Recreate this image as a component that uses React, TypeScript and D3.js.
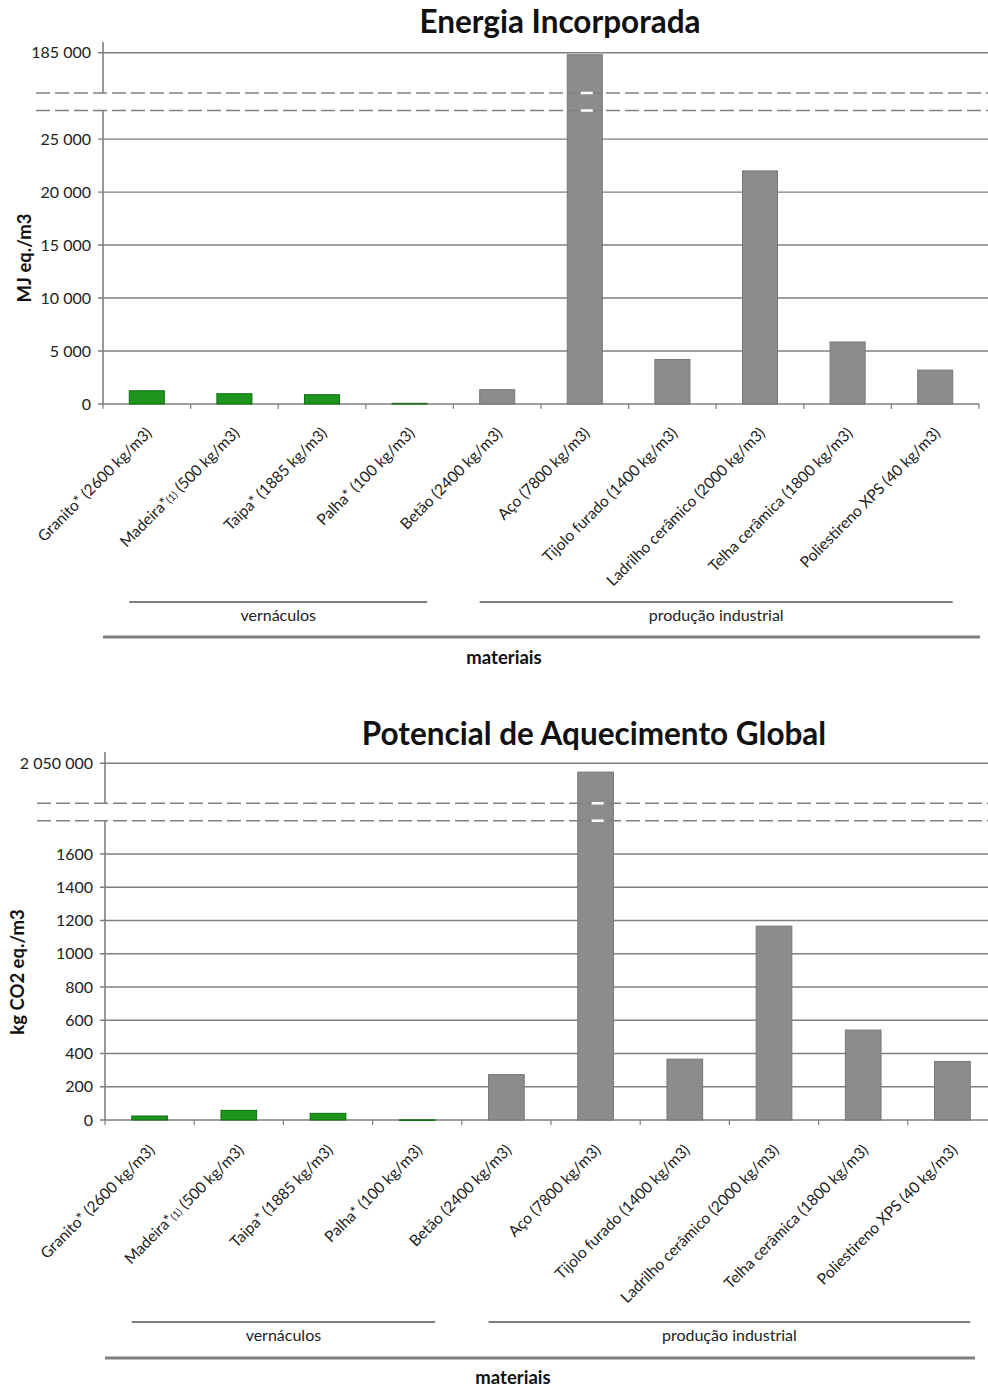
import React from "react";
import * as d3 from "d3";

// Material categories (density in parentheses)
const categories = [
  "Granito* (2600 kg/m3)",
  "Madeira*(1) (500 kg/m3)",
  "Taipa* (1885 kg/m3)",
  "Palha* (100 kg/m3)",
  "Betão (2400 kg/m3)",
  "Aço (7800 kg/m3)",
  "Tijolo furado (1400 kg/m3)",
  "Ladrilho cerâmico (2000 kg/m3)",
  "Telha cerâmica (1800 kg/m3)",
  "Poliestireno XPS (40 kg/m3)",
];

// Vernacular materials are the first four
const vernacular = [true, true, true, true, false, false, false, false, false, false];

// Embodied energy, MJ eq./m3
const energyValues = [1250, 970, 880, 60, 1350, 184500, 4200, 22000, 5850, 3200];
// Global warming potential, kg CO2 eq./m3
const gwpValues = [24, 58, 40, 1, 273, 2028000, 366, 1166, 541, 352];

const energyLowerTicks = [0, 5000, 10000, 15000, 20000, 25000];
const energyUpperTicks = [185000];
const gwpLowerTicks = [0, 200, 400, 600, 800, 1000, 1200, 1400, 1600];
const gwpUpperTicks = [2050000];

const groupLabels = ["vernáculos", "produção industrial"];
const groupRanges: [number, number][] = [
  [0, 3],
  [4, 9],
];

const FONT = "Lato, 'Open Sans', sans-serif";
const GRID = "#7f7f7f";
const BAR_GRAY = "#8c8c8c";
const BAR_GRAY_EDGE = "#777";
const BAR_GREEN = "#1c961c";
const BAR_GREEN_EDGE = "#0f6e0f";

const spaced = (v: number) => d3.format(",")(v).replace(/,/g, " ");
const plain = (v: number) => String(v);

type ChartProps = {
  title: string;
  titleX: number;
  titleY: number;
  yLabel: string;
  yLabelX: number;
  yLabelY: number;
  values: number[];
  x0: number;
  x1: number;
  y0: number; // baseline
  lowerTopY: number; // top of lower segment
  lowerMax: number;
  upperBottomY: number;
  upperTopY: number; // top of the axis line
  upperDomain: [number, number];
  upperRange: [number, number];
  lowerTicks: number[];
  upperTicks: number[];
  fmtLower: (v: number) => string;
  fmtUpper: (v: number) => string;
  dashX0: number;
  groupLineY: number;
  groupTextY: number;
  baseLineY: number;
  baseLineX1: number;
  axisTitleX: number;
  axisTitleY: number;
  labelOffset: number;
};

function BrokenBarChart(p: ChartProps) {
  const x = d3
    .scaleBand<string>()
    .domain(categories)
    .range([p.x0, p.x1])
    .paddingInner(0)
    .paddingOuter(0);
  const bw = x.bandwidth() * 0.4;
  const yLow = d3.scaleLinear().domain([0, p.lowerMax]).range([p.y0, p.lowerTopY]);
  const yUp = d3.scaleLinear().domain(p.upperDomain).range(p.upperRange);
  const yOf = (v: number) => (v > p.lowerMax ? yUp(v) : yLow(v));
  const gridRight = 988;

  return (
    <g fontFamily={FONT}>
      <text
        x={p.titleX}
        y={p.titleY}
        textAnchor="middle"
        fontSize={31.5}
        fontWeight="bold"
        fill="#111"
      >
        {p.title}
      </text>

      {/* gridlines */}
      {p.lowerTicks.map((t) => (
        <g key={"l" + t}>
          <line
            x1={p.x0 - 5}
            x2={t === 0 ? p.x1 : gridRight}
            y1={yLow(t)}
            y2={yLow(t)}
            stroke={GRID}
            strokeWidth={1.4}
          />
          <text
            x={p.x0 - 12}
            y={yLow(t)}
            dy="0.35em"
            textAnchor="end"
            fontSize={16}
            fill="#222"
          >
            {p.fmtLower(t)}
          </text>
        </g>
      ))}
      {p.upperTicks.map((t) => (
        <g key={"u" + t}>
          <line
            x1={p.x0 - 5}
            x2={gridRight}
            y1={yUp(t)}
            y2={yUp(t)}
            stroke={GRID}
            strokeWidth={1.4}
          />
          <text
            x={p.x0 - 12}
            y={yUp(t)}
            dy="0.35em"
            textAnchor="end"
            fontSize={16}
            fill="#222"
          >
            {p.fmtUpper(t)}
          </text>
        </g>
      ))}

      {/* y axis segments */}
      <line x1={p.x0} x2={p.x0} y1={p.upperTopY} y2={p.upperBottomY} stroke={GRID} strokeWidth={1.6} />
      <line x1={p.x0} x2={p.x0} y1={p.lowerTopY} y2={p.y0} stroke={GRID} strokeWidth={1.6} />

      {/* x axis ticks at band edges */}
      {categories.map((c, i) => (
        <line
          key={"xt" + i}
          x1={(x(c) as number) + x.bandwidth()}
          x2={(x(c) as number) + x.bandwidth()}
          y1={p.y0}
          y2={p.y0 + 5}
          stroke={GRID}
          strokeWidth={1.2}
        />
      ))}
      <line x1={p.x0} x2={p.x0} y1={p.y0} y2={p.y0 + 5} stroke={GRID} strokeWidth={1.2} />

      {/* bars */}
      {categories.map((c, i) => {
        const cx = (x(c) as number) + x.bandwidth() / 2;
        const top = yOf(p.values[i]);
        return (
          <rect
            key={"b" + i}
            x={cx - bw / 2}
            y={top}
            width={bw}
            height={Math.max(p.y0 - top, 0.6)}
            fill={vernacular[i] ? BAR_GREEN : BAR_GRAY}
            stroke={vernacular[i] ? BAR_GREEN_EDGE : BAR_GRAY_EDGE}
            strokeWidth={1}
          />
        );
      })}

      {/* axis break */}
      {[p.upperBottomY, p.lowerTopY].map((yy, k) => (
        <line
          key={"d" + k}
          x1={p.dashX0}
          x2={gridRight}
          y1={yy}
          y2={yy}
          stroke="#808080"
          strokeWidth={1.6}
          strokeDasharray="14 5"
        />
      ))}
      {categories.map((c, i) =>
        p.values[i] > p.lowerMax ? (
          <g key={"n" + i}>
            {[p.upperBottomY, p.lowerTopY].map((yy, k) => (
              <line
                key={k}
                x1={(x(c) as number) + x.bandwidth() / 2 - 4}
                x2={(x(c) as number) + x.bandwidth() / 2 + 8}
                y1={yy}
                y2={yy}
                stroke="#fff"
                strokeWidth={2.5}
              />
            ))}
          </g>
        ) : null
      )}

      {/* category labels */}
      {categories.map((c, i) => {
        const cx = (x(c) as number) + x.bandwidth() / 2;
        const tx = cx + 6;
        const ty = p.y0 + p.labelOffset;
        const m = c.match(/^(Madeira\*)\(1\)(.*)$/);
        return (
          <text
            key={"cl" + i}
            transform={`translate(${tx},${ty}) rotate(-45)`}
            textAnchor="end"
            fontSize={15.5}
            fill="#222"
          >
            {m ? (
              <>
                {m[1]}
                <tspan fontSize={10.5}>(1)</tspan>
                {m[2]}
              </>
            ) : (
              c
            )}
          </text>
        );
      })}

      {/* group brackets */}
      {groupLabels.map((g, k) => {
        const [a, b] = groupRanges[k];
        const xa = (x(categories[a]) as number) + x.bandwidth() / 2 - bw / 2;
        const xb = (x(categories[b]) as number) + x.bandwidth() / 2 + bw / 2;
        return (
          <g key={"g" + k}>
            <line x1={xa} x2={xb} y1={p.groupLineY} y2={p.groupLineY} stroke={GRID} strokeWidth={2.2} />
            <text x={(xa + xb) / 2} y={p.groupTextY} textAnchor="middle" fontSize={16} fill="#222">
              {g}
            </text>
          </g>
        );
      })}
      <line
        x1={p.x0}
        x2={p.baseLineX1}
        y1={p.baseLineY}
        y2={p.baseLineY}
        stroke={GRID}
        strokeWidth={3}
      />
      <text
        x={p.axisTitleX}
        y={p.axisTitleY}
        textAnchor="middle"
        fontSize={18.5}
        fontWeight="bold"
        fill="#111"
      >
        materiais
      </text>

      {/* y axis title */}
      <text
        transform={`translate(${p.yLabelX},${p.yLabelY}) rotate(-90)`}
        textAnchor="middle"
        fontSize={18.5}
        fontWeight="bold"
        fill="#111"
      >
        {p.yLabel}
      </text>
    </g>
  );
}

export default function App() {
  return (
    <svg
      width={988}
      height={1387}
      style={{ position: "absolute", left: 0, top: 0, background: "#fff" }}
    >
      <rect width={988} height={1387} fill="#fff" />
      <BrokenBarChart
        title="Energia Incorporada"
        titleX={560}
        titleY={33}
        yLabel="MJ eq./m3"
        yLabelX={31}
        yLabelY={258}
        values={energyValues}
        x0={103}
        x1={979}
        y0={404}
        lowerTopY={110.5}
        lowerMax={27700}
        upperBottomY={93}
        upperTopY={42}
        upperDomain={[175000, 185000]}
        upperRange={[93, 52.7]}
        lowerTicks={energyLowerTicks}
        upperTicks={energyUpperTicks}
        fmtLower={spaced}
        fmtUpper={spaced}
        dashX0={36}
        groupLineY={602}
        groupTextY={621}
        baseLineY={637}
        baseLineX1={980}
        axisTitleX={504}
        axisTitleY={664}
        labelOffset={30}
      />
      <BrokenBarChart
        title="Potencial de Aquecimento Global"
        titleX={594}
        titleY={745}
        yLabel="kg CO2 eq./m3"
        yLabelX={24}
        yLabelY={972}
        values={gwpValues}
        x0={105}
        x1={997}
        y0={1120}
        lowerTopY={820.7}
        lowerMax={1800}
        upperBottomY={803.3}
        upperTopY={752}
        upperDomain={[1950000, 2050000]}
        upperRange={[803.3, 763.3]}
        lowerTicks={gwpLowerTicks}
        upperTicks={gwpUpperTicks}
        fmtLower={plain}
        fmtUpper={spaced}
        dashX0={37}
        groupLineY={1322}
        groupTextY={1341}
        baseLineY={1358}
        baseLineX1={975}
        axisTitleX={513}
        axisTitleY={1384}
        labelOffset={31}
      />
    </svg>
  );
}
